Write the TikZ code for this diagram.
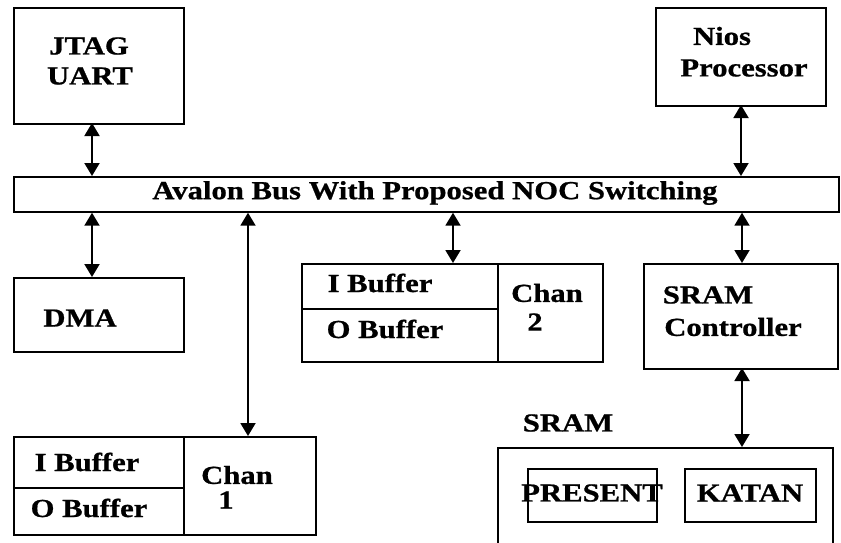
\documentclass[tikz,border=0pt]{standalone}
\usepackage{fontspec}
\newfontfamily\lblfont{Liberation Serif Bold}[FakeStretch=1.18, FakeBold=0.8]
\usetikzlibrary{arrows.meta}
\tikzset{
  box/.style={draw, line width=1.7pt, rectangle, anchor=north west, inner sep=0pt},
  lbl/.style={font=\fontsize{26}{30}\lblfont, inner sep=0pt},
  biarrow/.style={line width=1.9pt, {Triangle[width=15pt,length=13pt]}-{Triangle[width=15pt,length=13pt]}},
}
\newcommand{\boxat}[5]{\node[box, minimum width=#4pt, minimum height=#5pt] (#1) at (#2,#3) {};}
\begin{document}
\begin{tikzpicture}[x=1pt,y=-1pt]
  \useasboundingbox (0,0) rectangle (841,542);

  % top modules
  \boxat{jtag}{13}{7}{170}{116}
  \boxat{nios}{655}{7}{170}{98}
  \node[lbl] (jtagA) at (89,46) {JTAG};
  \node[lbl] (jtagB) at (90,76) {UART};
  \node[lbl] (niosA) at (722,36) {Nios};
  \node[lbl] (niosB) at (744,68) {Processor};

  % system bus
  \boxat{bus}{13}{176}{825}{35}
  \node[lbl] (busT) at (435,193) {Avalon Bus With Proposed NOC Switching};

  % DMA
  \boxat{dma}{13}{277}{170}{74}
  \node[lbl] (dmaT) at (80,318) {DMA};

  % channel 2
  \boxat{ib2}{301}{263}{196}{45}
  \boxat{ob2}{301}{308}{196}{53}
  \boxat{ch2}{497}{263}{105}{98}
  \node[lbl] (ib2T) at (380,283) {I Buffer};
  \node[lbl] (ob2T) at (385,329) {O Buffer};
  \node[lbl] (ch2A) at (547,293) {Chan};
  \node[lbl] (ch2B) at (535,322) {2};

  % channel 1
  \boxat{ib1}{13}{436}{170}{51}
  \boxat{ob1}{13}{487}{170}{47}
  \boxat{ch1}{183}{436}{132}{98}
  \node[lbl] (ib1T) at (87,462) {I Buffer};
  \node[lbl] (ob1T) at (89,508) {O Buffer};
  \node[lbl] (ch1A) at (237,475) {Chan};
  \node[lbl] (ch1B) at (226,500) {1};

  % memory side
  \boxat{sctl}{643}{263}{194}{105}
  \node[lbl] (sctlA) at (708,295) {SRAM};
  \node[lbl] (sctlB) at (733,327) {Controller};
  \boxat{sram}{497}{447}{335}{120}
  \node[lbl] (sramT) at (568,423) {SRAM};
  \boxat{pres}{527}{468}{129}{53}
  \boxat{katan}{684}{468}{131}{53}
  \node[lbl] (presT) at (592,493) {PRESENT};
  \node[lbl] (katanT) at (750,493) {KATAN};

  % bus taps
  \coordinate (tJ) at (92,123);
  \coordinate (tN) at (741,105);
  \coordinate (tD) at (92,277);
  \coordinate (t1) at (248,436);
  \coordinate (t2) at (453,263);
  \coordinate (tS) at (742,263);
  \coordinate (tM) at (742,447);
  \coordinate (tC) at (742,368);

  \draw[biarrow] (tJ) -- (tJ |- bus.north);
  \draw[biarrow] (tN) -- (tN |- bus.north);
  \draw[biarrow] (tD |- bus.south) -- (tD);
  \draw[biarrow] (t1 |- bus.south) -- (t1);
  \draw[biarrow] (t2 |- bus.south) -- (t2);
  \draw[biarrow] (tS |- bus.south) -- (tS);
  \draw[biarrow] (tC) -- (tM);
\end{tikzpicture}
\end{document}
